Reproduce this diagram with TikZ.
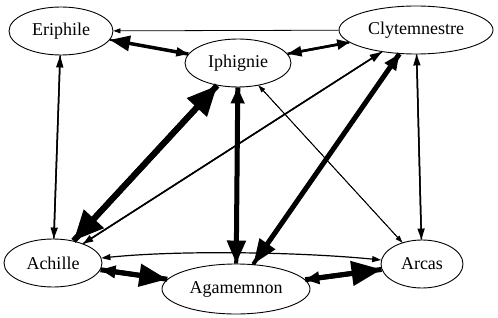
\documentclass[tikz,border=0pt]{standalone}
\usepackage{fontspec}
\setmainfont{Liberation Serif}
\usetikzlibrary{shapes.geometric,arrows.meta}
\begin{document}
\begin{tikzpicture}[x=1pt,y=-1pt,
  person/.style={draw, ellipse, line width=0.9pt, inner sep=0pt,
    font=\fontsize{18}{20}\selectfont},
  rel/.style n args={3}{line width=#1pt,
    -{Triangle[length=#2pt,width=#3pt]}},
]
\useasboundingbox (0,0) rectangle (498,318);

% characters
\node[person, minimum width=104pt, minimum height=48pt] (eri) at (61,31)  {Eriphile};
\node[person, minimum width=106pt, minimum height=48pt] (iph) at (238,63) {Iphignie};
\node[person, minimum width=154pt, minimum height=48pt] (cly) at (416,30) {Clytemnestre};
\node[person, minimum width=98pt,  minimum height=48pt] (ach) at (53,263) {Achille};
\node[person, minimum width=148pt, minimum height=50pt] (aga) at (236,289) {Agamemnon};
\node[person, minimum width=82pt,  minimum height=48pt] (arc) at (422,264) {Arcas};

% relations: one stroke per direction
\draw[rel={3.5}{20}{15}] (iph) -- (eri);
\draw[rel={2}{12}{9}]    (eri) -- (iph);
\draw[rel={0.8}{7}{5}]   (cly) -- (eri);
\draw[rel={2.5}{14}{10}] (cly) -- (iph);
\draw[rel={2.5}{12}{10}] (iph) -- (cly);
\draw[rel={1.5}{12}{7}]  (ach) -- (eri);
\draw[rel={1.5}{11}{7}]  (eri) -- (ach);
\draw[rel={6}{30}{26}]   (ach) -- (iph);
\draw[rel={6}{30}{26}]   (iph) -- (ach);
\draw[rel={4}{16}{13}]   (aga) -- (iph);
\draw[rel={5}{23}{18}]   (iph) -- (aga);
\draw[rel={0.8}{7}{5}]   (arc) -- (iph);
\draw[rel={0.8}{7}{5}]   (iph) -- (arc);
\draw[rel={1.5}{12}{8}]  (ach) -- (cly);
\draw[rel={1.5}{10}{7}]  (cly) -- (ach);
\draw[rel={4}{16}{13}]   (aga) -- (cly);
\draw[rel={5}{25}{18}]   (cly) -- (aga);
\draw[rel={1.5}{11}{7}]  (arc) -- (cly);
\draw[rel={1.5}{11}{7}]  (cly) -- (arc);
\draw[line width=1.2pt, {Triangle[length=9pt,width=6pt]}-{Triangle[length=9pt,width=6pt]}]
  (ach) .. controls (180,250) and (300,252) .. (arc);
\draw[rel={5}{15}{12}]   (aga) -- (ach);
\draw[rel={5}{28}{22}]   (ach) -- (aga);
\draw[rel={5}{14}{12}]   (arc) -- (aga);
\draw[rel={5}{30}{24}]   (aga) -- (arc);
\end{tikzpicture}
\end{document}
